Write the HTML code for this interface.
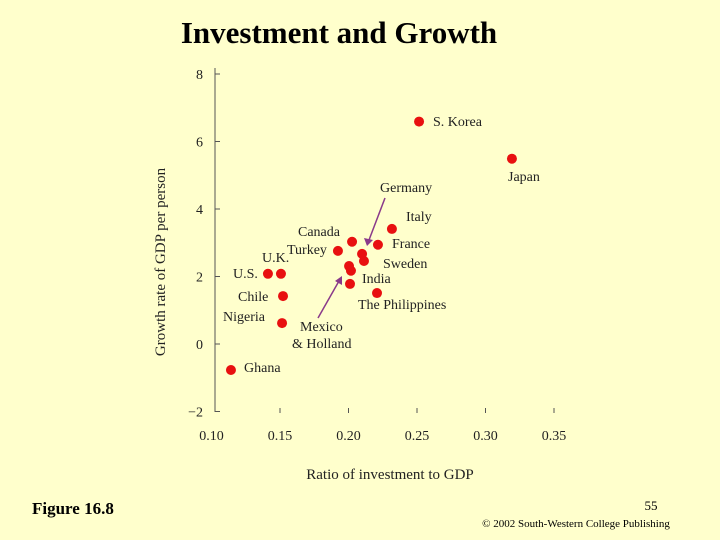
<!DOCTYPE html>
<html><head><meta charset="utf-8"><style>
html,body{margin:0;padding:0;background:#ffffcc;}
svg{display:block;font-family:"Liberation Serif",serif;}
</style></head><body>
<svg id="chart" width="720" height="540" viewBox="0 0 720 540">
<rect width="720" height="540" fill="#ffffcc"/>
<text x="339" y="43" font-size="31" font-weight="bold" text-anchor="middle">Investment and Growth</text>
<g id="axes"></g>
<g id="points"></g>
<text x="390" y="479" font-size="15" text-anchor="middle" fill="#222">Ratio of investment to GDP</text>
<text transform="translate(165,262) rotate(-90)" font-size="15" text-anchor="middle" fill="#222">Growth rate of GDP per person</text>
<path d="M385 198 L369 240" stroke="#8a3a8a" stroke-width="1.5" fill="none"/>
<path d="M364 238 L367 246 L373 240 Z" fill="#8a3a8a"/>
<path d="M318 318 L339 281" stroke="#8a3a8a" stroke-width="1.5" fill="none"/>
<path d="M335 281 L342 276 L342 285 Z" fill="#8a3a8a"/>
<text x="32" y="514" font-size="17" font-weight="bold">Figure 16.8</text>
<text x="651" y="510" font-size="13" text-anchor="middle">55</text>
<text x="576" y="527" font-size="11" text-anchor="middle">© 2002 South-Western College Publishing</text>
</svg>
<script>
const xTicks = [0.10, 0.15, 0.20, 0.25, 0.30, 0.35];
const xTickLabels = ["0.10", "0.15", "0.20", "0.25", "0.30", "0.35"];
const yTicks = [8, 6, 4, 2, 0, -2];
const yTickLabels = ["8", "6", "4", "2", "0", "\u22122"];
const countries = ["S. Korea","Japan","Italy","France","Canada","Turkey","Germany","Sweden","Mexico","Holland","India","The Philippines","U.K.","U.S.","Chile","Nigeria","Ghana"];
const investment = [0.2515,0.3193,0.2317,0.2215,0.2026,0.1923,0.2099,0.2113,0.2004,0.2018,0.2011,0.2208,0.1507,0.1412,0.1522,0.1515,0.1142];
const growth = [6.59,5.49,3.41,2.94,3.03,2.76,2.67,2.46,2.31,2.17,1.78,1.51,2.08,2.08,1.42,0.62,-0.77];
const labels = [
 ["S. Korea",433,126,"start"],["Japan",508,181,"start"],["Italy",406,221,"start"],["France",392,248,"start"],
 ["Canada",298,236,"start"],["Turkey",287,254,"start"],["Germany",380,192,"start"],["Sweden",383,268,"start"],
 ["India",362,283,"start"],["The Philippines",358,309,"start"],["U.K.",262,262,"start"],["U.S.",233,278,"start"],
 ["Chile",238,301,"start"],["Nigeria",223,321,"start"],["Mexico",300,331,"start"],["& Holland",292,348,"start"],["Ghana",244,372,"start"]
];
const NS = "http://www.w3.org/2000/svg";
function xs(v){ return 211.5 + (v - 0.10) * 1370; }
function ys(v){ return 344 - v * 33.75; }
const axes = document.getElementById('axes');
function mk(tag, attrs, parent){ const e=document.createElementNS(NS,tag); for(const k in attrs) e.setAttribute(k,attrs[k]); parent.appendChild(e); return e; }
const yl = mk('line',{x1:215,y1:68,x2:215,y2:412,stroke:'#555','stroke-width':1},axes);


yTicks.forEach((t,i)=>{
  const tk = mk('line',{x1:215,y1:ys(t),x2:220,y2:ys(t),stroke:'#555','stroke-width':1},axes);
  
  
  const tx = mk('text',{x:203,y:ys(t)+5,'font-size':14,'text-anchor':'end',fill:'#222'},axes);
  tx.textContent = yTickLabels[i];
  
  
});
xTicks.forEach((t,i)=>{
  if(i>0){
    const tk = mk('line',{x1:xs(t),y1:408,x2:xs(t),y2:413,stroke:'#555','stroke-width':1},axes);
    
    
  }
  const tx = mk('text',{x:xs(t),y:440,'font-size':14,'text-anchor':'middle',fill:'#222'},axes);
  tx.textContent = xTickLabels[i];
  
  
});
const pts = document.getElementById('points');
countries.forEach((c,i)=>{
  const p = mk('circle',{cx:xs(investment[i]),cy:ys(growth[i]),r:5,fill:'#e81010'},pts);
  
  
});
labels.forEach(l=>{
  const t = mk('text',{x:l[1],y:l[2],'font-size':14,'text-anchor':l[3],fill:'#222'},pts);
  t.textContent = l[0];
  
  
});
</script>
</body></html>
